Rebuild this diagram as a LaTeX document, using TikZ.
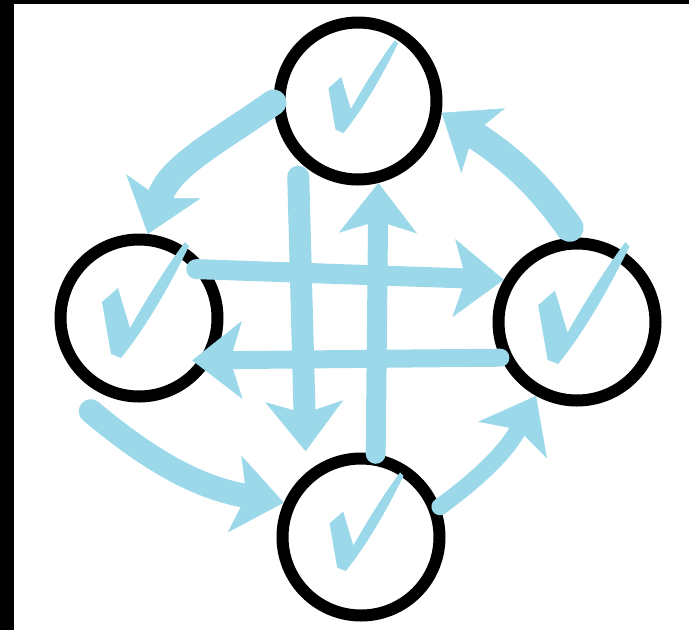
\documentclass[tikz,border=0pt]{standalone}
\usepackage{xcolor}
\usepackage{tikz}
\usetikzlibrary{arrows.meta}
\definecolor{chalk}{RGB}{155,217,234}

\begin{document}
\begin{tikzpicture}[x=1pt, y=1pt,
    ring/.style={circle, draw=black, line width=12pt, minimum size=157pt, inner sep=0pt},
    flow/.style={draw=chalk, line width=#1, line cap=round,
      -{Stealth[length=50pt, width=78pt, inset=12pt, line width=0.5pt, fill=chalk]}},
    flow/.default=22pt,
    chalktick/.pic={
      \fill[chalk] (-37,16) -- (-21,30) -- (-9,-10)
        .. controls (8,20) and (28,52) .. (46,76) -- (50,72)
        .. controls (32,35) and (8,-8) .. (-18,-40) -- (-28,-36) -- cycle;
    }]
  \useasboundingbox (0,0) rectangle (689,-630);

  % frame edges
  \fill[black] (0,0) rectangle (689,-4);
  \fill[black] (0,0) rectangle (14,-630);

  % the four rings
  \node[ring] (t) at (358,-101) {};
  \node[ring] (l) at (139,-318) {};
  \node[ring] (r) at (577,-322) {};
  \node[ring] (b) at (361,-537) {};

  % outer loop
  \draw[flow=26pt] (t.181) to[out=215, in=72] (l.84);
  \draw[flow=24pt] ([xshift=-6pt, yshift=-20pt]l.240) to[out=-40, in=170] (b.156);
  \draw[flow=17pt] (b.21) to[out=36, in=242] (r.241);
  \draw[flow=28pt] ([yshift=10pt]r.95) to[out=125, in=326] (t.352);

  % cross links
  \draw[flow=20pt, shorten <=-12pt] (l.35) -- (r.150);
  \draw[flow=18pt, shorten >=-20pt] (r.205) -- (l.330);
  \draw[flow=22pt] ([yshift=-16pt]t.225) -- ([yshift=22pt]b.131);
  \draw[flow=20pt] (b.80) -- (t.284);

  % ticks
  \pic[scale=0.8] at (t) {chalktick};
  \pic at (l) {chalktick};
  \pic[scale=1.05] at (r) {chalktick};
  \pic[scale=0.85] at (b) {chalktick};
\end{tikzpicture}
\end{document}
